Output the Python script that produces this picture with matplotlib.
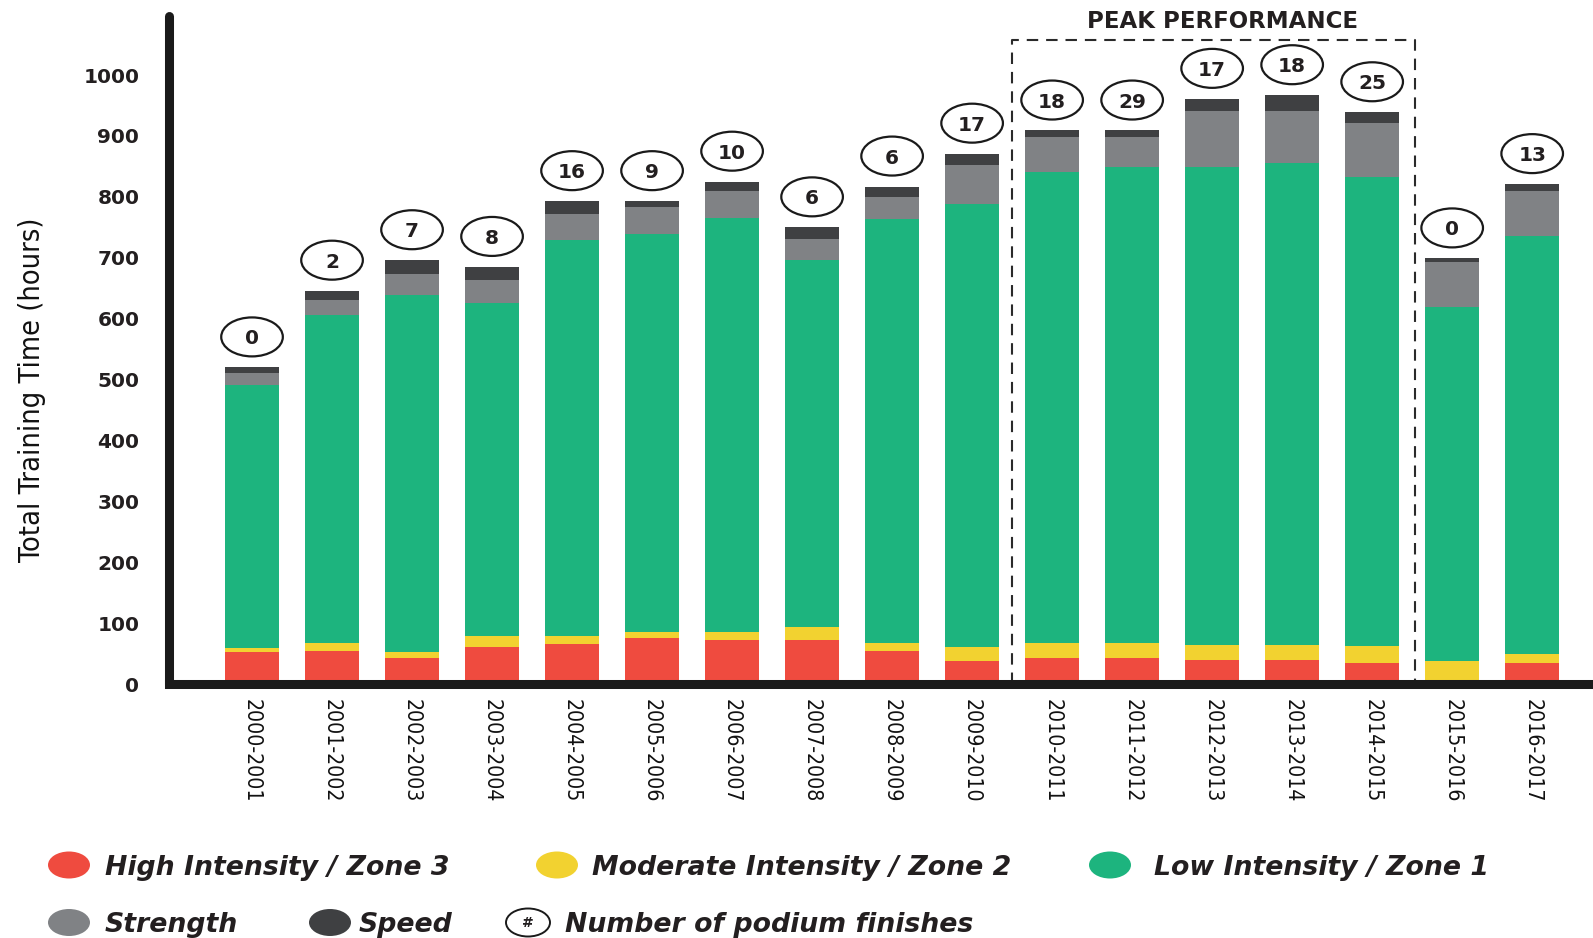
import matplotlib
matplotlib.use('Agg')
import matplotlib.pyplot as plt
from matplotlib.patches import Ellipse
from matplotlib.lines import Line2D
from matplotlib import font_manager as fm
import numpy as np

# ---------------- data ----------------
seasons = ['2000-2001', '2001-2002', '2002-2003', '2003-2004', '2004-2005',
           '2005-2006', '2006-2007', '2007-2008', '2008-2009', '2009-2010',
           '2010-2011', '2011-2012', '2012-2013', '2013-2014', '2014-2015',
           '2015-2016', '2016-2017']
high_intensity = [53, 55, 42, 61, 66, 76, 73, 73, 54, 38, 42, 42, 39, 39, 35, 0, 35]
moderate_intensity = [6, 13, 11, 18, 13, 9, 12, 21, 13, 22, 26, 26, 25, 25, 28, 37, 15]
low_intensity = [432, 538, 586, 546, 650, 654, 681, 603, 696, 728, 772, 781, 785, 792, 770, 582, 686]
strength = [19, 25, 34, 39, 43, 44, 43, 33, 37, 65, 58, 49, 92, 85, 89, 74, 73]
speed = [10, 15, 23, 21, 21, 10, 16, 20, 17, 18, 11, 11, 20, 26, 17, 6, 12]
podiums = [0, 2, 7, 8, 16, 9, 10, 6, 6, 17, 18, 29, 17, 18, 25, 0, 13]
y_ticks = [0, 100, 200, 300, 400, 500, 600, 700, 800, 900, 1000]
peak_label = 'PEAK PERFORMANCE'
peak_first, peak_last = '2010-2011', '2014-2015'
y_label = 'Total Training Time (hours)'
legend_labels = ['High Intensity / Zone 3', 'Moderate Intensity / Zone 2',
                 'Low Intensity / Zone 1', 'Strength', 'Speed',
                 'Number of podium finishes']

# ---------------- style ----------------
RED = '#EF4B3F'
YEL = '#F2D230'
GRN = '#1DB47E'
GRY = '#808285'
DRK = '#3F4042'
INK = '#231F20'


def _is_regular(f):
    return f.style == 'normal' and f.weight in (400, 'normal', 'regular', 'book')


def pick_narrow():
    fl = fm.fontManager.ttflist
    for f in fl:
        if f.name == 'Liberation Sans Narrow' and _is_regular(f):
            return f.fname
    for f in fl:
        st = f.stretch
        cond = st in ('condensed', 'semi-condensed', 'extra-condensed') or \
            (isinstance(st, (int, float)) and st < 500)
        if f.name == 'DejaVu Sans' and cond and _is_regular(f):
            return f.fname
    for f in fl:
        if ('Condensed' in f.name or 'Narrow' in f.name) and _is_regular(f):
            return f.fname
    return fm.findfont(fm.FontProperties(family='Liberation Sans'))


NARROW_FILE = pick_narrow()

W, H = 1593, 938
fig = plt.figure(figsize=(W / 100, H / 100), dpi=100)
ax = fig.add_axes([168.5 / W, (H - 684) / H, 1 - 168.5 / W, (684 - 16) / H])

x = np.arange(len(seasons))
bottom = np.zeros(len(seasons))
series = [(high_intensity, RED), (moderate_intensity, YEL), (low_intensity, GRN),
          (strength, GRY), (speed, DRK)]
for vals, col in series:
    ax.bar(x, vals, 0.67, bottom=bottom, color=col, linewidth=0, zorder=2)
    bottom = bottom + np.array(vals, dtype=float)

# podium ellipses
for xi, tot, p in zip(x, bottom, podiums):
    ax.add_patch(Ellipse((xi, tot + 50), 0.77, 64, facecolor='white',
                         edgecolor='#1a1a1a', lw=1.6, zorder=4))
    ax.text(xi, tot + 50, str(p), ha='center', va='center_baseline', fontsize=14.5,
            fontweight='bold', family='DejaVu Sans', color=INK, zorder=5)

# peak performance box
i0 = seasons.index(peak_first)
i1 = seasons.index(peak_last)
bx0, bx1, btop = i0 - 0.5, i1 + 0.53, 1058
ax.add_line(Line2D([bx0, bx0, bx1, bx1], [0, btop, btop, 0], color='#2a2a2a',
                   lw=1.5, linestyle=(0, (5.5, 3.8)), zorder=3))
ax.text((bx0 + bx1) / 2 + 0.12, 1088, peak_label, ha='center', va='center',
        fontsize=16.5, fontweight='bold', family='DejaVu Sans', color=INK)

ax.set_xlim(-1.044, 16.76)
ax.set_ylim(0, 1097)

for s in ['top', 'right']:
    ax.spines[s].set_visible(False)
for s in ['left', 'bottom']:
    ax.spines[s].set_linewidth(6.5)
    ax.spines[s].set_color('#1a1a1a')
    ax.spines[s].set_zorder(6)
ax.spines['left'].set_capstyle('round')

narrow_fp = fm.FontProperties(fname=NARROW_FILE, size=17.5)
ax.set_xticks(x)
ax.set_xticklabels(seasons, rotation=270, fontproperties=narrow_fp, color='#111111')
ax.tick_params(axis='x', length=0, pad=10.5)
ax.set_yticks(y_ticks)
ax.set_yticklabels([str(v) for v in y_ticks], fontsize=14.5, fontweight='bold',
                   family='DejaVu Sans', color=INK)
ax.tick_params(axis='y', length=0, pad=21)

ylab_fp = fm.FontProperties(fname=NARROW_FILE, size=24)
ylab = fig.text(32.5 / W, 1 - 390 / H, y_label, rotation=90, ha='center', va='center',
                fontproperties=ylab_fp, color='#111111')

# legend
def fx(px):
    return px / W


def fy(py):
    return 1 - py / H


leg_font = dict(fontsize=19.3, fontweight='bold', style='italic',
                family='DejaVu Sans', color=INK, va='baseline', ha='left')
rows = [
    (69, 865, 105, 875, RED, legend_labels[0]),
    (557, 865, 592, 875, YEL, legend_labels[1]),
    (1110, 865, 1154, 875, GRN, legend_labels[2]),
    (69, 922.5, 105, 932, GRY, legend_labels[3]),
    (330, 922.5, 359, 932, DRK, legend_labels[4]),
]
for mx, my, tx, ty, col, lab in rows:
    fig.patches.append(Ellipse((fx(mx), fy(my)), 42 / W, 27 / H, facecolor=col,
                               edgecolor='none', transform=fig.transFigure))
    fig.text(fx(tx), fy(ty), lab, **leg_font)

fig.patches.append(Ellipse((fx(528), fy(922.5)), 44 / W, 28 / H, facecolor='white',
                           edgecolor='#1a1a1a', lw=1.4, transform=fig.transFigure))
fig.text(fx(528), fy(922.5), '#', ha='center', va='center', fontsize=10,
         fontweight='bold', family='DejaVu Sans', color=INK)
fig.text(fx(565), fy(932), legend_labels[5], **leg_font)

# fit narrow text sizes close to the reference lengths (in pixels)
fig.canvas.draw()
r = fig.canvas.get_renderer()
lab0 = ax.get_xticklabels()[0]
h0 = lab0.get_window_extent(r).height
xt_size = 17.5 * 104.0 / h0
for t in ax.get_xticklabels():
    t.set_fontsize(xt_size)
hy = ylab.get_window_extent(r).height
ylab.set_fontsize(24 * 345.0 / hy)

fig.savefig('out.png', dpi=100, facecolor='white')
